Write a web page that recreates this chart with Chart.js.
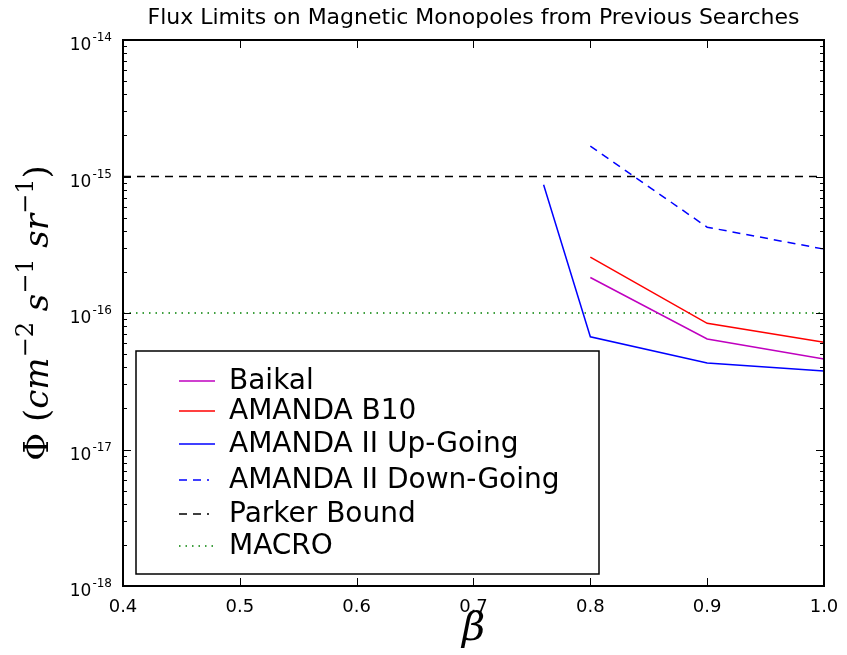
<!DOCTYPE html>
<html>
<head>
<meta charset="utf-8">
<script src="https://cdn.jsdelivr.net/npm/chart.js@4/dist/chart.umd.min.js"></script>
<style>
  html, body { margin: 0; padding: 0; background: #fff; }
  #wrap { width: 847px; height: 655px; }
</style>
</head>
<body>
<div id="wrap"><canvas id="fluxChart" width="847" height="655"></canvas></div>
<script>
// beta values and flux limits (cm^-2 s^-1 sr^-1)
const betaBaikal = [0.8, 0.9, 1.0];
const baikal = [1.82e-16, 6.45e-17, 4.6e-17];
const betaB10 = [0.8, 0.9, 1.0];
const amandaB10 = [2.57e-16, 8.4e-17, 6.1e-17];
const betaUp = [0.76, 0.8, 0.9, 1.0];
const amandaUp = [8.7e-16, 6.7e-17, 4.3e-17, 3.76e-17];
const betaDown = [0.8, 0.9, 1.0];
const amandaDown = [1.67e-15, 4.25e-16, 2.94e-16];
const betaRange = [0.4, 1.0];
const parker = [1e-15, 1e-15];
const macro = [1e-16, 1e-16];
const xTicks = [0.4, 0.5, 0.6, 0.7, 0.8, 0.9, 1.0];
const yExponents = [-18, -17, -16, -15, -14];

const pts = (xs, ys) => xs.map((x, i) => ({ x: x, y: ys[i] }));

const legendItems = [
    { label: 'Baikal', color: '#bf00bf', dash: [], y: 381, len: 36 },
    { label: 'AMANDA B10', color: '#ff0000', dash: [], y: 411, len: 36 },
    { label: 'AMANDA II Up-Going', color: '#0000ff', dash: [], y: 444, len: 36 },
    { label: 'AMANDA II Down-Going', color: '#0000ff', dash: [8, 6], y: 480, len: 30 },
    { label: 'Parker Bound', color: '#000000', dash: [8, 6], y: 514, len: 30 },
    { label: 'MACRO', color: '#008000', dash: [1.5, 5], y: 546, len: 34 }
];

// frame, inside ticks, y tick labels with exponents, axis titles and the boxed legend
const decorations = {
    id: 'decorations',
    afterDraw(chart) {
        const ctx = chart.ctx;
        const a = chart.chartArea;
        const xs = chart.scales.x, ys = chart.scales.y;
        ctx.save();
        ctx.strokeStyle = '#000';
        ctx.lineWidth = 1;
        ctx.setLineDash([]);
        // x ticks, bottom and top
        xTicks.forEach(v => {
            const px = Math.round(xs.getPixelForValue(v)) + 0.5;
            ctx.beginPath();
            ctx.moveTo(px, a.bottom); ctx.lineTo(px, a.bottom - 8);
            ctx.moveTo(px, a.top); ctx.lineTo(px, a.top + 8);
            ctx.stroke();
        });
        // y ticks, major and minor, left and right
        yExponents.forEach(e => {
            for (let m = 1; m <= 9; m++) {
                const v = m * Math.pow(10, e);
                if (e === -14 && m > 1) break;
                const py = Math.round(ys.getPixelForValue(v)) + 0.5;
                const len = m === 1 ? 8 : 4;
                ctx.beginPath();
                ctx.moveTo(a.left, py); ctx.lineTo(a.left + len, py);
                ctx.moveTo(a.right, py); ctx.lineTo(a.right - len, py);
                ctx.stroke();
            }
        });
        // frame
        ctx.lineWidth = 2;
        ctx.strokeRect(a.left, a.top, a.right - a.left, a.bottom - a.top);

        // y tick labels: 10 with raised exponent
        ctx.fillStyle = '#000';
        ctx.textBaseline = 'alphabetic';
        yExponents.forEach(e => {
            const py = ys.getPixelForValue(Math.pow(10, e));
            ctx.font = '12px "DejaVu Sans"';
            ctx.textAlign = 'right';
            ctx.fillText(String(e), 112, py + 1);
            const ew = ctx.measureText(String(e)).width;
            ctx.font = '17px "DejaVu Sans"';
            ctx.fillText('10', 112 - ew - 1, py + 10);
        });

        // y axis title: Phi (cm^-2 s^-1 sr^-1)
        const parts = [
            { t: '\u03A6', f: '34px "DejaVu Serif"', dy: 0 },
            { t: ' (', f: '34px "DejaVu Serif"', dy: 0 },
            { t: 'cm', f: 'italic 34px "DejaVu Serif"', dy: 0 },
            { t: '\u22122', f: '24px "DejaVu Serif"', dy: -15 },
            { t: ' s', f: 'italic 34px "DejaVu Serif"', dy: 0 },
            { t: '\u22121', f: '24px "DejaVu Serif"', dy: -15 },
            { t: ' sr', f: 'italic 34px "DejaVu Serif"', dy: 0 },
            { t: '\u22121', f: '24px "DejaVu Serif"', dy: -15 },
            { t: ')', f: '34px "DejaVu Serif"', dy: 0 }
        ];
        let total = 0;
        parts.forEach(p => { ctx.font = p.f; p.w = ctx.measureText(p.t).width; total += p.w; });
        ctx.save();
        ctx.translate(48, (a.top + a.bottom) / 2);
        ctx.rotate(-Math.PI / 2);
        ctx.textAlign = 'left';
        let cx = -total / 2;
        parts.forEach(p => { ctx.font = p.f; ctx.fillText(p.t, cx, p.dy); cx += p.w; });
        ctx.restore();

        // x axis title
        ctx.font = 'italic 40px "DejaVu Serif"';
        ctx.textAlign = 'center';
        ctx.fillText('\u03B2', (a.left + a.right) / 2, 640);

        // legend box
        ctx.fillStyle = '#fff';
        ctx.fillRect(136, 351, 463, 223);
        ctx.lineWidth = 1.5;
        ctx.strokeStyle = '#000';
        ctx.strokeRect(136, 351, 463, 223);
        ctx.font = '28px "DejaVu Sans"';
        ctx.textAlign = 'left';
        ctx.textBaseline = 'middle';
        legendItems.forEach(it => {
            ctx.strokeStyle = it.color;
            ctx.lineWidth = 1.5;
            ctx.setLineDash(it.dash);
            ctx.beginPath();
            ctx.moveTo(179, it.y); ctx.lineTo(179 + it.len, it.y);
            ctx.stroke();
            ctx.setLineDash([]);
            ctx.fillStyle = '#000';
            ctx.fillText(it.label, 229, it.y + 1);
        });
        ctx.restore();
    }
};

const lineStyle = (color, dash) => ({
    borderColor: color, backgroundColor: color, borderWidth: 1.5, borderDash: dash,
    pointRadius: 0, fill: false, tension: 0
});

new Chart(document.getElementById('fluxChart').getContext('2d'), {
    type: 'line',
    data: {
        datasets: [
            Object.assign({ label: 'Baikal', data: pts(betaBaikal, baikal) }, lineStyle('#bf00bf', [])),
            Object.assign({ label: 'AMANDA B10', data: pts(betaB10, amandaB10) }, lineStyle('#ff0000', [])),
            Object.assign({ label: 'AMANDA II Up-Going', data: pts(betaUp, amandaUp) }, lineStyle('#0000ff', [])),
            Object.assign({ label: 'AMANDA II Down-Going', data: pts(betaDown, amandaDown) }, lineStyle('#0000ff', [8, 6])),
            Object.assign({ label: 'Parker Bound', data: pts(betaRange, parker) }, lineStyle('#000000', [8, 6])),
            Object.assign({ label: 'MACRO', data: pts(betaRange, macro) }, lineStyle('#008000', [1.5, 5]))
        ]
    },
    options: {
        responsive: false,
        animation: false,
        layout: { padding: { right: 23, left: 0, top: 0, bottom: 0 } },
        plugins: {
            legend: { display: false },
            tooltip: { enabled: false },
            title: {
                display: true,
                fullSize: false,
                text: 'Flux Limits on Magnetic Monopoles from Previous Searches',
                color: '#000',
                font: { family: 'DejaVu Sans', size: 22, weight: 'normal', lineHeight: 1.2 },
                padding: { top: 5, bottom: 8.6 }
            }
        },
        scales: {
            x: {
                type: 'linear',
                min: betaRange[0], max: betaRange[1],
                grid: { display: false },
                border: { display: false },
                afterBuildTicks: s => { s.ticks = xTicks.map(v => ({ value: v })); },
                afterFit: s => { s.height = 69; },
                ticks: {
                    color: '#000', padding: 3, maxRotation: 0, autoSkip: false,
                    font: { family: 'DejaVu Sans', size: 18 },
                    callback: v => v.toFixed(1)
                }
            },
            y: {
                type: 'logarithmic',
                min: 1e-18, max: 1e-14,
                grid: { display: false },
                border: { display: false },
                afterBuildTicks: s => { s.ticks = yExponents.map(e => ({ value: Math.pow(10, e) })); },
                afterFit: s => { s.width = 123; },
                ticks: { display: false }
            }
        }
    },
    plugins: [decorations]
});
</script>
</body>
</html>
